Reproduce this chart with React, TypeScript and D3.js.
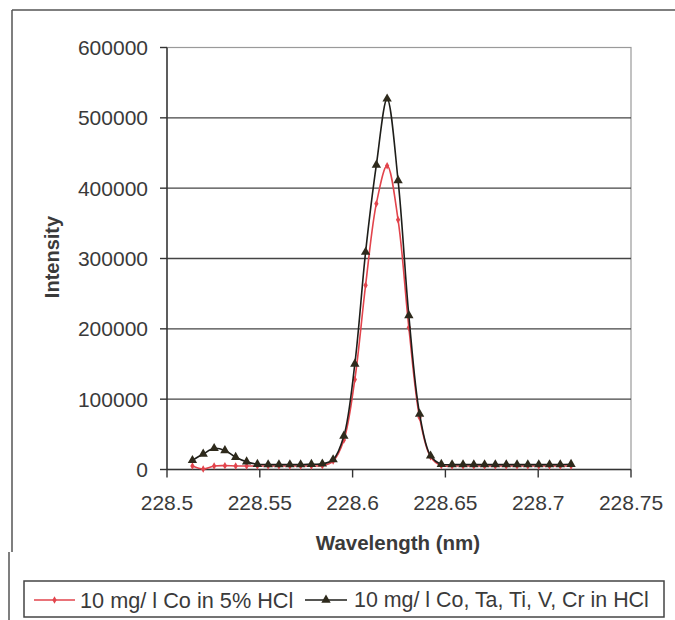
import * as d3 from 'd3';

// wavelength of each measured point (nm)
const wavelengths = [
  228.5137, 228.5195, 228.5254, 228.5312, 228.537, 228.5429, 228.5487, 228.5545,
  228.5603, 228.5662, 228.572, 228.5778, 228.5837, 228.5895, 228.5953, 228.6012,
  228.607, 228.6128, 228.6186, 228.6245, 228.6303, 228.6361, 228.642, 228.6478,
  228.6536, 228.6595, 228.6653, 228.6711, 228.6769, 228.6828, 228.6886, 228.6944,
  228.7003, 228.7061, 228.7119, 228.7177,
];

// 10 mg/l Co in 5% HCl
const coOnly = [
  5000, 800, 5000, 5500, 5000, 5000, 5000, 5000, 5000, 5000, 5000, 5000,
  5500, 12000, 42000, 128000, 262000, 378000, 432000, 355000, 202000, 74000, 18000, 5500,
  5000, 5000, 5000, 5000, 5000, 5000, 5000, 5000, 5000, 5000, 5000, 5000,
];

// 10 mg/l Co, Ta, Ti, V, Cr in HCl
const coMix = [
  13000, 22000, 30000, 27000, 17500, 11000, 7500, 7000, 7000, 7000, 7000, 7500,
  8000, 14000, 47600, 150000, 309000, 433000, 527000, 411000, 219000, 79000, 19500, 7500,
  7000, 7000, 7000, 7000, 7000, 7000, 7000, 7000, 7000, 7000, 7000, 7500,
];

const yTicks = [0, 100000, 200000, 300000, 400000, 500000, 600000];
const xTicks = [228.5, 228.55, 228.6, 228.65, 228.7, 228.75];
const legendLabels = ['10 mg/ l Co in 5% HCl', '10 mg/ l Co, Ta, Ti, V, Cr in HCl'];

const W = 675;
const H = 620;
const left = 167;
const right = 631;
const top = 47.5;
const bottom = 469.5;
const font = 'Arial, "Liberation Sans", sans-serif';
const textColor = '#3a3a3a';
const red = '#e2444c';
const dark = '#1e1e1a';
const markerDark = '#2e2a1c';

const x = d3.scaleLinear().domain([228.5, 228.75]).range([left, right]);
const y = d3.scaleLinear().domain([0, 600000]).range([bottom, top]);

const makeLine = (vals: number[]) =>
  d3.line<number>()
    .x((_, i) => x(wavelengths[i]))
    .y(v => y(v))
    .curve(d3.curveCatmullRom.alpha(0.5))(vals) || '';

const tri = d3.symbol().type(d3.symbolTriangle).size(38)() || '';
const diamond = d3.symbol().type(d3.symbolDiamond).size(16)() || '';

export default function App() {
  return (
    <svg width={W} height={H} style={{ position: 'absolute', left: 0, top: 0, background: '#fff' }}>
      {/* outer chart frame (partially cropped in the scan) */}
      <line x1={12} y1={10} x2={W} y2={10} stroke="#555" strokeWidth={1.5} />
      <line x1={12} y1={10} x2={12} y2={552} stroke="#555" strokeWidth={1.5} />
      <line x1={9} y1={552} x2={9} y2={H} stroke="#555" strokeWidth={1.5} />

      {/* plot area border */}
      <rect x={left} y={top} width={right - left} height={bottom - top} fill="none" stroke="#9a9a9a" strokeWidth={1.2} />

      {/* gridlines */}
      {yTicks.filter(t => t > 0 && t < 600000).map(t => (
        <line key={t} x1={left} x2={right} y1={y(t)} y2={y(t)} stroke="#444" strokeWidth={1.4} />
      ))}

      {/* axes */}
      <line x1={left} x2={left} y1={top} y2={bottom} stroke="#333" strokeWidth={1.4} />
      <line x1={left} x2={right} y1={bottom} y2={bottom} stroke="#333" strokeWidth={1.4} />
      {yTicks.map(t => (
        <g key={t}>
          <line x1={left - 7} x2={left} y1={y(t)} y2={y(t)} stroke="#333" strokeWidth={1.4} />
          <text x={148} y={y(t)} dy="0.35em" textAnchor="end" fontFamily={font} fontSize={21} fill={textColor}>
            {t}
          </text>
        </g>
      ))}
      {xTicks.map(t => (
        <g key={t}>
          <line x1={x(t)} x2={x(t)} y1={bottom} y2={bottom + 8} stroke="#333" strokeWidth={1.4} />
          <text x={x(t)} y={510} textAnchor="middle" fontFamily={font} fontSize={21} fill={textColor}>
            {d3.format('')(t)}
          </text>
        </g>
      ))}

      <text transform={`translate(59,257) rotate(-90)`} textAnchor="middle" fontFamily={font} fontSize={20} fontWeight="bold" fill={textColor}>
        Intensity
      </text>
      <text x={398} y={550} textAnchor="middle" fontFamily={font} fontSize={20.5} fontWeight="bold" fill={textColor}>
        Wavelength (nm)
      </text>

      {/* series */}
      <path d={makeLine(coOnly)} fill="none" stroke={red} strokeWidth={1.6} />
      {coOnly.map((v, i) => (
        <path key={i} d={diamond} transform={`translate(${x(wavelengths[i])},${y(v)})`} fill={red} />
      ))}
      <path d={makeLine(coMix)} fill="none" stroke={dark} strokeWidth={1.6} />
      {coMix.map((v, i) => (
        <path key={i} d={tri} transform={`translate(${x(wavelengths[i])},${y(v)})`} fill={markerDark} />
      ))}

      {/* legend */}
      <rect x={24} y={581} width={640} height={36} fill="#fff" stroke="#444" strokeWidth={1.5} />
      <line x1={34} x2={75} y1={600} y2={600} stroke={red} strokeWidth={1.6} />
      <path d={diamond} transform="translate(54.5,600)" fill={red} />
      <text x={80} y={600} dy="0.35em" fontFamily={font} fontSize={21.7} fill={textColor}>{legendLabels[0]}</text>
      <line x1={305} x2={347} y1={600} y2={600} stroke={dark} strokeWidth={1.6} />
      <path d={tri} transform="translate(326,600)" fill={markerDark} />
      <text x={354} y={600} dy="0.35em" fontFamily={font} fontSize={21.4} fill={textColor}>{legendLabels[1]}</text>
    </svg>
  );
}
